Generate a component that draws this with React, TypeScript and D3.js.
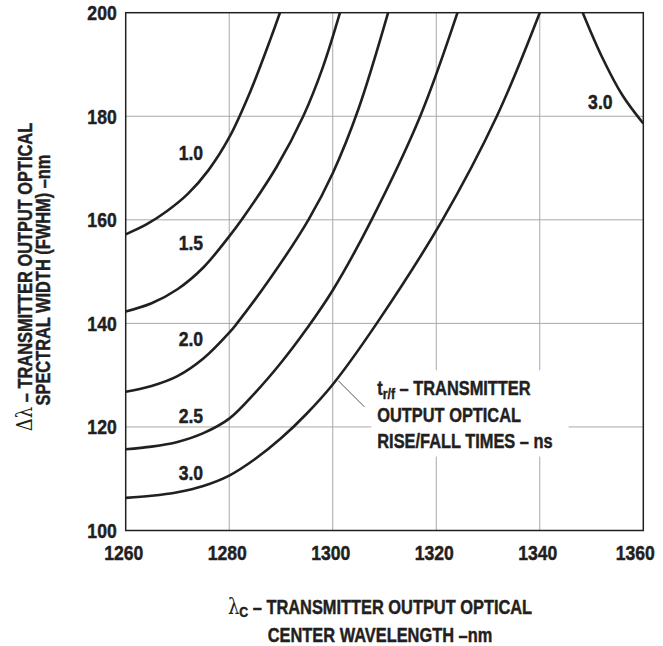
import React, { useEffect, useRef } from 'react'
import * as d3 from 'd3'

// rise/fall time curves (wavelength nm, spectral width nm)
const curve10: [number, number][] = [
  [1260, 157.2], [1264, 159.1], [1268, 161.7], [1272, 165], [1276, 169.6],
  [1280, 175.9], [1284, 184.6], [1288, 195], [1289.8, 200],
]
const curve15: [number, number][] = [
  [1260, 142.3], [1265, 143.9], [1270, 146.6], [1275, 150.8], [1280, 156.8],
  [1282.4, 160], [1289.2, 170.3], [1294.3, 180], [1298.1, 189.5], [1301.4, 200],
]
const curve20: [number, number][] = [
  [1260, 126.8], [1265, 127.9], [1270, 129.8], [1275, 133.2], [1280, 138.2],
  [1281.5, 140], [1288, 148.8], [1295.3, 160], [1300, 169], [1305, 181.5],
  [1310.7, 200],
]
const curve25: [number, number][] = [
  [1260, 115.7], [1265, 116.2], [1270, 117.1], [1275, 118.8], [1280, 121.6],
  [1285, 126.6], [1290, 132.4], [1295, 139], [1300, 146.4], [1307.5, 160],
  [1316.9, 180], [1324.1, 200],
]
const curve30: [number, number][] = [
  [1260, 106.3], [1265, 106.7], [1270, 107.4], [1275, 108.6], [1280, 110.6],
  [1285, 113.8], [1290, 117.8], [1295, 122.6], [1300, 128.2], [1308.5, 140],
  [1321.2, 160], [1331.7, 180], [1340, 200],
]
const curve30right: [number, number][] = [
  [1348.3, 200], [1352, 191.5], [1356, 184], [1360, 178.6],
]

const curves = [curve10, curve15, curve20, curve25, curve30, curve30right]
const curveNames = ['1.0', '1.5', '2.0', '2.5', '3.0', '3.0']
// where each curve's name sits (x, y in chart units)
const curveLabelAt: [number, number][] = [
  [1272.6, 171.6], [1272.6, 154.2], [1272.6, 135.6], [1272.6, 120.8], [1272.6, 109.8], [1351.7, 181.4],
]

const xTicks = [1260, 1280, 1300, 1320, 1340, 1360]
const yTicks = [100, 120, 140, 160, 180, 200]

const noteLines = ['– TRANSMITTER', 'OUTPUT OPTICAL', 'RISE/FALL TIMES – ns']
const noteAt: [number, number] = [1308.6, 126.2]
const leader: [number, number][] = [[1301.1, 128.9], [1306.1, 123.9]]

const FONT = "'Liberation Sans', Arimo, Arial, sans-serif"
const SYM = "'DejaVu Serif', 'Liberation Serif', serif"
const INK = '#231f20'
// squeeze Liberation Sans bold into a condensed look
const NARROW = 0.82
const DIGITS = 0.88

type Sel = d3.Selection<SVGGElement, unknown, null, undefined>

// a text sitting at (x, y), squeezed horizontally along its own direction
function squeezed(parent: Sel, x: number, y: number, sx: number, anchor = 'start', rotate = 0) {
  return parent.append('g')
    .attr('transform', `translate(${x},${y})${rotate ? ` rotate(${rotate})` : ''} scale(${sx},1)`)
    .append('text')
    .attr('text-anchor', anchor)
    .attr('font-family', FONT).attr('font-weight', 'bold').attr('font-size', 20)
    .attr('fill', INK)
    .attr('stroke', INK).attr('stroke-width', 0.45)
}

export default function App() {
  const ref = useRef<SVGSVGElement>(null)

  useEffect(() => {
    const svg = d3.select(ref.current)
    svg.selectAll('*').remove()

    const left = 125.7, right = 643.3, top = 12.7, bottom = 530.5

    const x = d3.scaleLinear().domain([1260, 1360]).range([left, right])
    const y = d3.scaleLinear().domain([100, 200]).range([bottom, top])

    const g = svg.append('g') as unknown as Sel

    // grid
    g.selectAll('line.vgrid')
      .data(xTicks.slice(1, -1))
      .enter().append('line')
      .attr('x1', d => x(d)).attr('x2', d => x(d))
      .attr('y1', top).attr('y2', bottom)
      .attr('stroke', '#a8a8a8').attr('stroke-width', 1)
    g.selectAll('line.hgrid')
      .data(yTicks.slice(1, -1))
      .enter().append('line')
      .attr('x1', left).attr('x2', right)
      .attr('y1', d => y(d)).attr('y2', d => y(d))
      .attr('stroke', '#a8a8a8').attr('stroke-width', 1)

    // white patch behind the note, text placed first so we can measure it
    const patch = g.append('rect').attr('fill', 'white')
    const noteG = g.append('g') as unknown as Sel
    const first = squeezed(noteG, x(noteAt[0]), y(noteAt[1]), NARROW)
    first.append('tspan').text('t')
    first.append('tspan').attr('font-size', 15).attr('dy', 4).text('r/f')
    first.append('tspan').attr('dy', -4).text(' ' + noteLines[0])
    noteLines.slice(1).forEach((s, i) => {
      squeezed(noteG, x(noteAt[0]), y(noteAt[1]) + 26.7 * (i + 1), NARROW).text(s)
    })
    const bb = (noteG.node() as SVGGElement).getBBox()
    patch.attr('x', bb.x - 6).attr('y', bb.y - 6)
      .attr('width', bb.width + 22).attr('height', bb.height + 10)

    g.append('line')
      .attr('x1', x(leader[0][0])).attr('y1', y(leader[0][1]))
      .attr('x2', x(leader[1][0])).attr('y2', y(leader[1][1]))
      .attr('stroke', '#555').attr('stroke-width', 1)

    // frame
    g.append('rect')
      .attr('x', left).attr('y', top)
      .attr('width', right - left).attr('height', bottom - top)
      .attr('fill', 'none').attr('stroke', INK).attr('stroke-width', 1.5)

    // curves
    const line = d3.line<[number, number]>()
      .x(d => x(d[0])).y(d => y(d[1]))
      .curve(d3.curveCatmullRom.alpha(0.5))
    g.selectAll('path.curve')
      .data(curves)
      .enter().append('path')
      .attr('d', d => line(d))
      .attr('fill', 'none')
      .attr('stroke', INK)
      .attr('stroke-width', 2.6)

    curveNames.forEach((name, i) => {
      squeezed(g, x(curveLabelAt[i][0]), y(curveLabelAt[i][1]), DIGITS, 'middle').text(name)
    })

    // tick labels
    xTicks.forEach((d, i) => {
      const nudge = i === xTicks.length - 1 ? -8 : -2
      squeezed(g, x(d) + nudge, 560, DIGITS, 'middle').text(d)
    })
    yTicks.forEach(d => {
      squeezed(g, 116.7, y(d) + 7.3, DIGITS, 'end').text(d)
    })

    // x title
    const xt = squeezed(g, 380, 614, NARROW, 'middle')
    xt.append('tspan').attr('font-family', SYM).attr('font-weight', 'normal').attr('stroke-width', 0)
      .attr('font-size', 22).text('λ')
    xt.append('tspan').attr('font-size', 15).attr('dy', 3).text('C')
    xt.append('tspan').attr('dy', -3).text(' – TRANSMITTER OUTPUT OPTICAL')
    squeezed(g, 380, 642, NARROW, 'middle').text('CENTER WAVELENGTH –nm')

    // y title
    const yt = squeezed(g, 32, 277, NARROW, 'middle', -90)
    yt.append('tspan').attr('font-family', SYM).attr('font-weight', 'normal').attr('stroke-width', 0)
      .attr('font-size', 22).text('Δλ')
    yt.append('tspan').text(' – TRANSMITTER OUTPUT OPTICAL')
    squeezed(g, 50, 280, NARROW, 'middle', -90).text('SPECTRAL WIDTH (FWHM) –nm')
  }, [])

  return (
    <svg ref={ref} width={663} height={646}
      style={{ position: 'absolute', left: 0, top: 0, background: 'white' }} />
  )
}
